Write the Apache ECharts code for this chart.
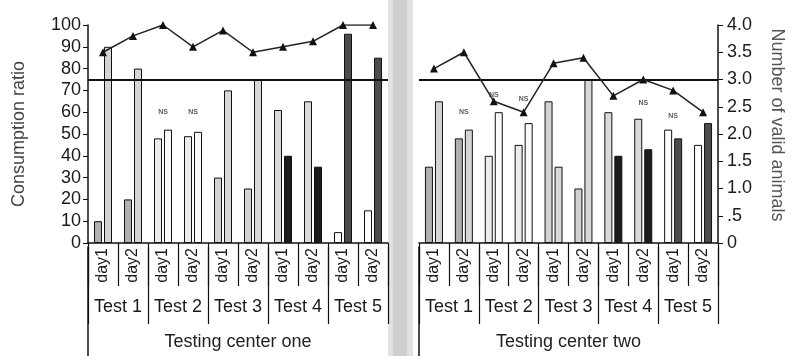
<!DOCTYPE html>
<html><head><meta charset="utf-8">
<script src="https://cdn.jsdelivr.net/npm/echarts@6/dist/echarts.min.js"></script>
<style>html,body{margin:0;padding:0;background:#fff}#c{width:794px;height:356px}</style>
</head><body><div id="c"></div>
<script>
// ---- data ----
const days = ['day1','day2','day1','day2','day1','day2','day1','day2','day1','day2'];
const tests = ['Test 1','Test 2','Test 3','Test 4','Test 5'];
const centerNames = ['Testing center one','Testing center two'];
const centerOneBar1 = [10, 20, 48, 49, 30, 25, 61, 65, 5, 15];
const centerOneBar2 = [90, 80, 52, 51, 70, 75, 40, 35, 96, 85];
const centerTwoBar1 = [35, 48, 40, 45, 65, 25, 60, 57, 52, 45];
const centerTwoBar2 = [65, 52, 60, 55, 35, 75, 40, 43, 48, 55];
const centerOneAnimals = [3.5, 3.8, 4.0, 3.6, 3.9, 3.5, 3.6, 3.7, 4.0, 4.0];
const centerTwoAnimals = [3.2, 3.5, 2.6, 2.4, 3.3, 3.4, 2.7, 3.0, 2.8, 2.4];
const centerOneNS = [null, null, 60, 60, null, null, null, null, null, null];
const centerTwoNS = [null, 60, 68, 66, null, null, null, 64, 58, null];
const criterion = 75;

// ---- styles ----
const bar1Shades = ['#b0b0b0', '#ececec', '#d2d2d2', '#dadada', '#ffffff'];
const bar2Shades = ['#d4d4d4', '#fafafa', '#d8d8d8', '#1c1c1c', '#4c4c4c'];
const FONT = 'Liberation Sans, Arial, sans-serif';
const INK = '#1a1a1a';

function barData(vals, shades) {
  return vals.map((v, i) => ({ value: v, itemStyle: { color: shades[Math.floor(i / 2)] } }));
}
function nsData(vals) {
  return vals.map((v, i) => v == null ? null : [i, v]).filter(d => d);
}

const grids = [
  { left: 88, top: 25, width: 300, height: 222 },   // 0 plot one
  { left: 419, top: 25, width: 299, height: 222 },  // 1 plot two
  { left: 88, top: 247, width: 300, height: 109 },  // 2 left rule extension
  { left: 419, top: 247, width: 299, height: 109 }, // 3 right rule extension
  { left: 88, top: 247, width: 300, height: 77 },   // 4 test separators one
  { left: 419, top: 247, width: 299, height: 77 }   // 5 test separators two
];

function dayAxis(g) {
  return {
    type: 'category', gridIndex: g, data: days, boundaryGap: true,
    axisLine: { show: true, lineStyle: { color: '#111', width: 1.5 } },
    axisTick: { show: true, interval: 0, length: 43, lineStyle: { color: '#111', width: 1.2 } },
    axisLabel: { interval: 0, rotate: 90, fontSize: 16, margin: 5, color: INK, fontFamily: FONT }
  };
}
function testAxis(g) {
  return {
    type: 'category', gridIndex: g, data: tests, position: 'bottom', offset: 43, boundaryGap: true,
    axisLine: { show: false }, axisTick: { show: false },
    axisLabel: { interval: 0, fontSize: 18, margin: 12, color: INK, fontFamily: FONT },
    name: centerNames[g], nameLocation: 'middle', nameGap: 47,
    nameTextStyle: { fontSize: 18, color: '#222', fontFamily: FONT }
  };
}
function separatorAxis(g) {
  return {
    type: 'category', gridIndex: g, data: tests, boundaryGap: true,
    axisLine: { show: false }, axisTick: { show: false }, axisLabel: { show: false },
    splitLine: { show: true, interval: 0, lineStyle: { color: '#111', width: 1.2 } }
  };
}
function ruleAxis(g, pos) {
  return {
    type: 'value', gridIndex: g, min: 0, max: 1, position: pos,
    axisLine: { show: true, lineStyle: { color: '#111', width: 1.5 } },
    axisTick: { show: false }, axisLabel: { show: false }, splitLine: { show: false }
  };
}

const option = {
  animation: false,
  backgroundColor: '#fff',
  graphic: [
    { type: 'rect', shape: { x: 388, y: 0, width: 25, height: 356 }, style: { fill: '#e2e2e2' }, z: -10 },
    { type: 'rect', shape: { x: 393, y: 0, width: 14, height: 356 }, style: { fill: '#cfcfcf' }, z: -9 }
  ],
  grid: grids,
  xAxis: [
    dayAxis(0), testAxis(0), dayAxis(1), testAxis(1),
    { type: 'value', gridIndex: 2, show: false },
    { type: 'value', gridIndex: 3, show: false },
    separatorAxis(4), separatorAxis(5)
  ],
  yAxis: [
    {
      type: 'value', gridIndex: 0, min: 0, max: 100, interval: 10, position: 'left',
      axisLine: { show: true, lineStyle: { color: '#111', width: 1.5 } },
      axisTick: { show: true, length: 5, lineStyle: { color: '#111' } },
      splitLine: { show: false },
      axisLabel: { fontSize: 18, margin: 7, color: INK, fontFamily: FONT },
      name: 'Consumption ratio', nameLocation: 'middle', nameGap: 60,
      nameTextStyle: { fontSize: 18, color: '#444', fontFamily: FONT }
    },
    { type: 'value', gridIndex: 0, min: 0, max: 4, interval: 0.5, position: 'right', show: false },
    { type: 'value', gridIndex: 1, min: 0, max: 100, interval: 10, position: 'left', show: false },
    {
      type: 'value', gridIndex: 1, min: 0, max: 4, interval: 0.5, position: 'right',
      axisLine: { show: true, lineStyle: { color: '#111', width: 1.5 } },
      axisTick: { show: true, length: 5, lineStyle: { color: '#111' } },
      splitLine: { show: false },
      axisLabel: {
        fontSize: 18, margin: 9, color: INK, fontFamily: FONT,
        formatter: v => v === 0 ? '0' : (v === 0.5 ? '.5' : v.toFixed(1))
      },
      name: 'Number of valid animals', nameLocation: 'middle', nameGap: 50, nameRotate: -90,
      nameTextStyle: { fontSize: 18, color: '#555', fontFamily: FONT, padding: [0, 18, 0, 0] }
    },
    ruleAxis(2, 'left'),
    ruleAxis(3, 'right'),
    { type: 'value', gridIndex: 4, show: false },
    { type: 'value', gridIndex: 5, show: false }
  ],
  series: []
};

const panels = [
  { x: 0, yBar: 0, yLine: 1, b1: centerOneBar1, b2: centerOneBar2, line: centerOneAnimals, ns: centerOneNS },
  { x: 2, yBar: 2, yLine: 3, b1: centerTwoBar1, b2: centerTwoBar2, line: centerTwoAnimals, ns: centerTwoNS }
];
panels.forEach(p => {
  option.series.push({
    type: 'bar', xAxisIndex: p.x, yAxisIndex: p.yBar, data: barData(p.b1, bar1Shades),
    barWidth: 8, barGap: '25%', itemStyle: { borderColor: '#111', borderWidth: 1 },
    markLine: {
      silent: true, symbol: 'none', label: { show: false },
      lineStyle: { color: '#111', width: 2, type: 'solid' },
      data: [{ yAxis: criterion }]
    }
  });
  option.series.push({
    type: 'bar', xAxisIndex: p.x, yAxisIndex: p.yBar, data: barData(p.b2, bar2Shades),
    barWidth: 8, barGap: '25%', itemStyle: { borderColor: '#111', borderWidth: 1 }
  });
  option.series.push({
    type: 'line', xAxisIndex: p.x, yAxisIndex: p.yLine, data: p.line,
    symbol: 'triangle', symbolSize: 8, itemStyle: { color: '#111' },
    lineStyle: { color: '#222', width: 1.5 }, z: 5
  });
  option.series.push({
    type: 'scatter', xAxisIndex: p.x, yAxisIndex: p.yBar, data: nsData(p.ns),
    symbolSize: 2, itemStyle: { color: 'rgba(255,255,255,0)' },
    label: { show: true, position: 'inside', formatter: 'NS', fontSize: 7, fontWeight: 'bold', color: '#333', fontFamily: FONT },
    z: 6
  });
});

const chart = echarts.init(document.getElementById('c'), null, { renderer: 'canvas' });
chart.setOption(option);
</script>
</body></html>
